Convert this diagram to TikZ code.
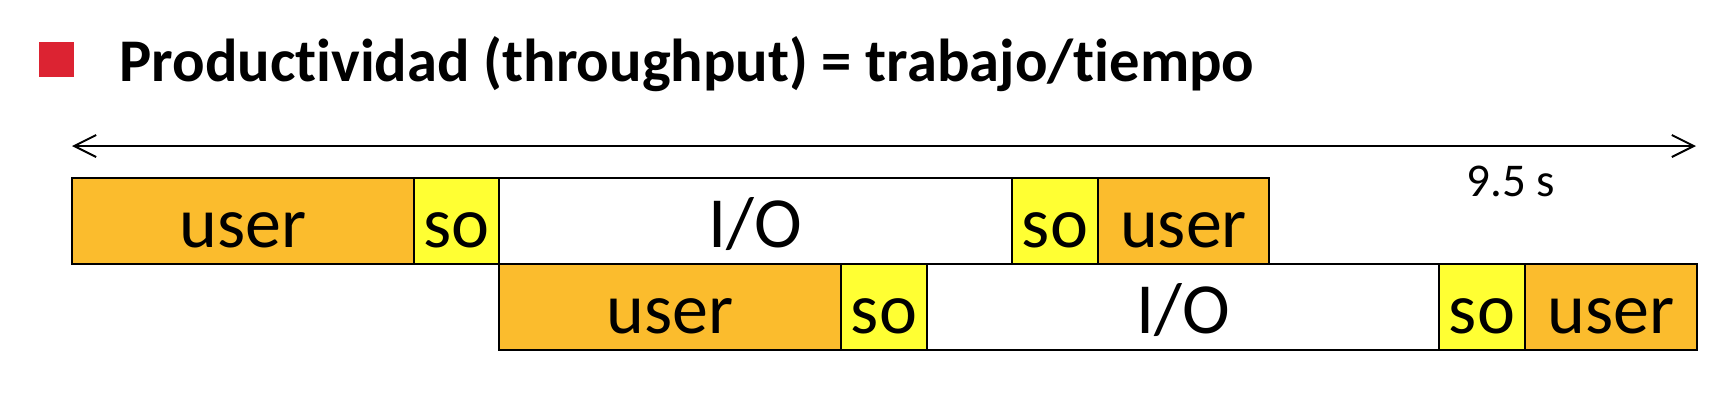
\documentclass[tikz,border=0pt]{standalone}
\usepackage{fontspec}
\setmainfont{Carlito}[Ligatures=NoCommon]
\usetikzlibrary{arrows.meta}

\definecolor{userorange}{RGB}{251,188,45}
\definecolor{soyellow}{RGB}{255,255,51}
\definecolor{bulletred}{RGB}{220,35,50}

\begin{document}
\begin{tikzpicture}[x=0.5pt,y=-0.5pt,
    slot/.style={rectangle, draw, line width=1.3pt, anchor=north west,
                 inner sep=0pt, outer sep=0pt, minimum height=43pt,
                 text height=26pt, text depth=0pt,
                 font=\fontsize{36}{40}\selectfont},
    user/.style={slot, fill=userorange},
    os/.style={slot, fill=soyellow},
    io/.style={slot, fill=white}]

  \useasboundingbox (0,0) rectangle (1736,404);

  % title
  \node[rectangle,
        fill = bulletred,
        inner sep = 0pt,
        minimum size = 17.5pt] (bullet) at (56.5,59.5) {};
  \node[anchor=base west, inner sep=0pt,
        font=\bfseries\fontsize{30.3}{36}\selectfont] (title) at (119,81)
        {Productividad (throughput) = trabajo/tiempo};

  % time axis
  \coordinate (t0) at (72,146);
  \coordinate (t1) at (1696,146);
  \draw[{Straight Barb[length=11pt,width=11pt]}-{Straight Barb[length=11pt,width=11pt]},
        line width=1pt] (t0) -- (t1);
  \node[anchor=base, inner sep=0pt,
        font=\fontsize{23.5}{28}\selectfont] (dur) at (1511,196) {9.5 s};

  % first job
  \node[user, minimum width=171pt]   (userA) at (72,178)   {user};
  \node[os,   minimum width=42.5pt]  (soA)   at (414,178)  {so};
  \node[io,   minimum width=256.5pt] (ioA)   at (499,178)  {I/O};
  \node[os,   minimum width=43pt]    (soB)   at (1012,178) {so};
  \node[user, minimum width=85.5pt]  (userB) at (1098,178) {user};

  % second job
  \node[user, minimum width=171pt]   (userC) at (499,264)  {user};
  \node[os,   minimum width=43pt]    (soC)   at (841,264)  {so};
  \node[io,   minimum width=256pt]   (ioB)   at (927,264)  {I/O};
  \node[os,   minimum width=43pt]    (soD)   at (1439,264) {so};
  \node[user, minimum width=86pt]    (userD) at (1525,264) {user};

\end{tikzpicture}
\end{document}
